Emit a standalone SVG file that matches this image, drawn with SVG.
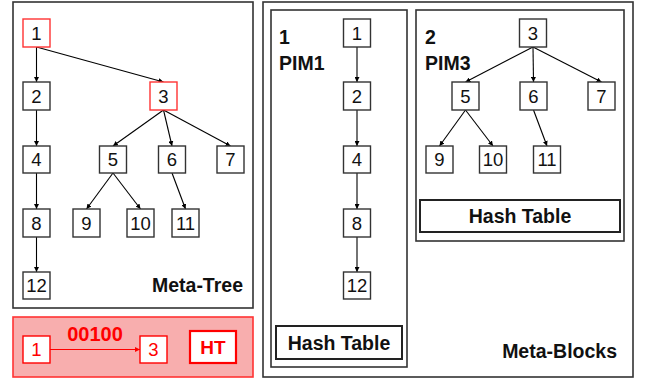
<svg xmlns="http://www.w3.org/2000/svg" width="646" height="381" viewBox="0 0 646 381">
<defs>
<marker id="ah" viewBox="0 0 8 8" refX="8" refY="4" markerWidth="5" markerHeight="5" orient="auto" markerUnits="userSpaceOnUse"><path d="M0,0 L8,4 L0,8 z" fill="#000"/></marker>
<marker id="ahr" viewBox="0 0 8 8" refX="8" refY="4" markerWidth="5" markerHeight="5" orient="auto" markerUnits="userSpaceOnUse"><path d="M0,0 L8,4 L0,8 z" fill="#f00"/></marker>
</defs>
<style>
.frame{fill:#fff;stroke:#333;stroke-width:1.6}
.nd{fill:#fff;stroke:#333;stroke-width:1.4}
.ndr{fill:#fff;stroke:#f33;stroke-width:1.4}
.t{font-family:"Liberation Sans",Arial,sans-serif;font-size:18.5px;fill:#111;text-anchor:middle}
.tr{font-family:"Liberation Sans",Arial,sans-serif;font-size:18.5px;fill:#f00;text-anchor:middle}
.b{font-family:"Liberation Sans",Arial,sans-serif;font-size:19.5px;font-weight:bold;fill:#111}
.e{stroke:#000;stroke-width:1.1;fill:none;marker-end:url(#ah)}
.er{stroke:#f00;stroke-width:1.1;fill:none;marker-end:url(#ahr)}
.ht{fill:#fff;stroke:#222;stroke-width:2}
</style>

<g id="meta-tree-frame">
<rect class="frame" x="13" y="2" width="240" height="306"/>
<text class="b" x="243" y="292" text-anchor="end" font-size="20">Meta-Tree</text>
</g>

<g id="ht-frame">
<rect x="13" y="317" width="240" height="60" fill="#f8aeae" stroke="#f33" stroke-width="1.6"/>
<text x="95" y="341" font-family="Liberation Sans,Arial,sans-serif" font-size="20" font-weight="bold" fill="#f00" text-anchor="middle">00100</text>
</g>

<g id="meta-blocks-frame">
<rect class="frame" x="263" y="2" width="370" height="375"/>
<text class="b" x="617" y="358" text-anchor="end" font-size="20">Meta-Blocks</text>
</g>
<g id="pim1-frame">
<rect class="frame" x="271" y="10" width="136" height="357"/>
<text class="b" x="279" y="44">1</text>
<text class="b" x="279" y="70">PIM1</text>
</g>
<g id="pim3-frame">
<rect class="frame" x="416" y="10" width="208" height="231"/>
<text class="b" x="425" y="44">2</text>
<text class="b" x="425" y="70">PIM3</text>
</g>

<g id="connectors">
<line class="e" x1="36.5" y1="47" x2="36.5" y2="82"/>
<line class="e" x1="36.5" y1="47" x2="163.5" y2="82"/>
<line class="e" x1="36.5" y1="110" x2="36.5" y2="146"/>
<line class="e" x1="36.5" y1="173" x2="36.5" y2="209"/>
<line class="e" x1="36.5" y1="237" x2="36.5" y2="272"/>
<line class="e" x1="163.5" y1="110" x2="113" y2="146"/>
<line class="e" x1="163.5" y1="110" x2="172" y2="146"/>
<line class="e" x1="163.5" y1="110" x2="230.5" y2="146"/>
<line class="e" x1="113" y1="173" x2="86.5" y2="209"/>
<line class="e" x1="113" y1="173" x2="140.5" y2="209"/>
<line class="e" x1="172" y1="173" x2="185.5" y2="209"/>
<line class="er" x1="50" y1="349.5" x2="140" y2="349.5"/>
<line class="e" x1="357" y1="47" x2="357" y2="82"/>
<line class="e" x1="357" y1="110" x2="357" y2="146"/>
<line class="e" x1="357" y1="173" x2="357" y2="209"/>
<line class="e" x1="357" y1="237" x2="357" y2="272"/>
<line class="e" x1="533" y1="47" x2="465.5" y2="82"/>
<line class="e" x1="533" y1="47" x2="533.5" y2="82"/>
<line class="e" x1="533" y1="47" x2="601.5" y2="82"/>
<line class="e" x1="465.5" y1="110" x2="439.5" y2="146"/>
<line class="e" x1="465.5" y1="110" x2="493" y2="146"/>
<line class="e" x1="533.5" y1="110" x2="547" y2="146"/>
</g>

<g id="mt-1"><rect class="ndr" x="23" y="19" width="27" height="28"/><text class="t" x="36.5" y="40">1</text></g>
<g id="mt-2"><rect class="nd" x="23" y="82" width="27" height="28"/><text class="t" x="36.5" y="103">2</text></g>
<g id="mt-3"><rect class="ndr" x="150" y="82" width="27" height="28"/><text class="t" x="163.5" y="103">3</text></g>
<g id="mt-4"><rect class="nd" x="23" y="146" width="27" height="27"/><text class="t" x="36.5" y="166">4</text></g>
<g id="mt-5"><rect class="nd" x="99.5" y="146" width="27" height="27"/><text class="t" x="113" y="166">5</text></g>
<g id="mt-6"><rect class="nd" x="158.5" y="146" width="27" height="27"/><text class="t" x="172" y="166">6</text></g>
<g id="mt-7"><rect class="nd" x="217" y="146" width="27" height="27"/><text class="t" x="230.5" y="166">7</text></g>
<g id="mt-8"><rect class="nd" x="23" y="209" width="27" height="28"/><text class="t" x="36.5" y="230">8</text></g>
<g id="mt-9"><rect class="nd" x="73" y="209" width="27" height="28"/><text class="t" x="86.5" y="230">9</text></g>
<g id="mt-10"><rect class="nd" x="127" y="209" width="27" height="28"/><text class="t" x="140.5" y="230">10</text></g>
<g id="mt-11"><rect class="nd" x="172" y="209" width="27" height="28"/><text class="t" x="185.5" y="230">11</text></g>
<g id="mt-12"><rect class="nd" x="23" y="272" width="27" height="27"/><text class="t" x="36.5" y="292">12</text></g>

<g id="ht-1"><rect x="23" y="336" width="27" height="27" fill="#fff" stroke="#f00" stroke-width="1.4"/><text class="tr" x="36.5" y="356">1</text></g>
<g id="ht-3"><rect x="140" y="336" width="27" height="27" fill="#fff" stroke="#f00" stroke-width="1.4"/><text class="tr" x="153.5" y="356">3</text></g>
<g id="ht-HT"><rect x="190" y="331" width="46" height="32" fill="#fff" stroke="#f00" stroke-width="2.2"/><text x="213" y="354" font-family="Liberation Sans,Arial,sans-serif" font-size="19" font-weight="bold" fill="#f00" text-anchor="middle">HT</text></g>

<g id="p1-1"><rect class="nd" x="343.5" y="19" width="27" height="28"/><text class="t" x="357" y="40">1</text></g>
<g id="p1-2"><rect class="nd" x="343.5" y="82" width="27" height="28"/><text class="t" x="357" y="103">2</text></g>
<g id="p1-4"><rect class="nd" x="343.5" y="146" width="27" height="27"/><text class="t" x="357" y="166">4</text></g>
<g id="p1-8"><rect class="nd" x="343.5" y="209" width="27" height="28"/><text class="t" x="357" y="230">8</text></g>
<g id="p1-12"><rect class="nd" x="343.5" y="272" width="27" height="27"/><text class="t" x="357" y="292">12</text></g>
<g id="p1-hash"><rect class="ht" x="276" y="326" width="126" height="33"/><text class="b" x="339" y="350" text-anchor="middle">Hash Table</text></g>

<g id="p3-3"><rect class="nd" x="519.5" y="19" width="27" height="28"/><text class="t" x="533" y="40">3</text></g>
<g id="p3-5"><rect class="nd" x="452" y="82" width="27" height="28"/><text class="t" x="465.5" y="103">5</text></g>
<g id="p3-6"><rect class="nd" x="520" y="82" width="27" height="28"/><text class="t" x="533.5" y="103">6</text></g>
<g id="p3-7"><rect class="nd" x="588" y="82" width="27" height="28"/><text class="t" x="601.5" y="103">7</text></g>
<g id="p3-9"><rect class="nd" x="426" y="146" width="27" height="27"/><text class="t" x="439.5" y="166">9</text></g>
<g id="p3-10"><rect class="nd" x="479.5" y="146" width="27" height="27"/><text class="t" x="493" y="166">10</text></g>
<g id="p3-11"><rect class="nd" x="533.5" y="146" width="27" height="27"/><text class="t" x="547" y="166">11</text></g>
<g id="p3-hash"><rect class="ht" x="420" y="200" width="200" height="32"/><text class="b" x="520" y="223" text-anchor="middle">Hash Table</text></g>
</svg>
